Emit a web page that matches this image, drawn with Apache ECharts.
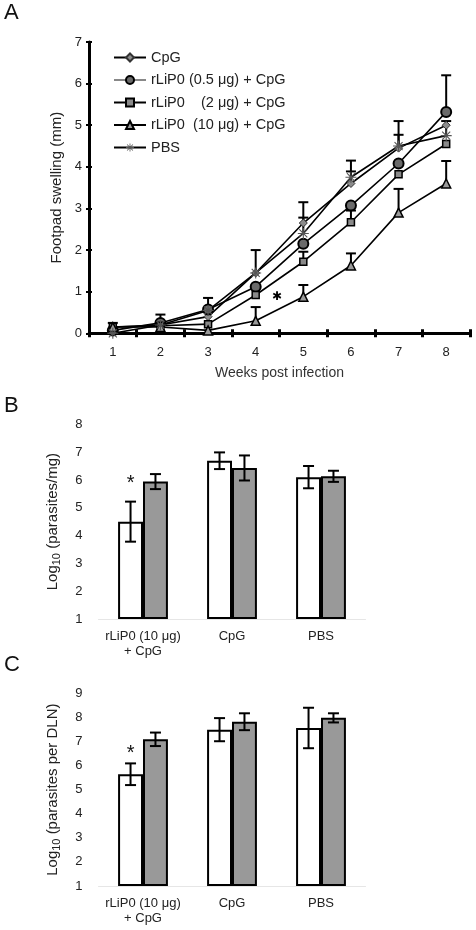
<!DOCTYPE html>
<html><head><meta charset="utf-8">
<script src="https://cdn.jsdelivr.net/npm/echarts@6/dist/echarts.min.js"></script>
<style>html,body{margin:0;padding:0;background:#fff}#c{width:476px;height:930px}</style>
</head><body><div id="c"></div>
<script>
// ---------- Panel A data ----------
const weeks = ['1','2','3','4','5','6','7','8'];
const cpgVals  = [0.15, 0.20, 0.40, 1.45, 2.65, 3.60, 4.45, 5.00];
const lip05Vals = [0.07, 0.25, 0.57, 1.12, 2.15, 3.07, 4.08, 5.32];
const lip2Vals  = [0.15, 0.18, 0.22, 0.92, 1.72, 2.67, 3.82, 4.55];
const lip10Vals = [0.15, 0.15, 0.07, 0.30, 0.88, 1.63, 2.90, 3.60];
const pbsVals   = [0.00, 0.20, 0.55, 1.45, 2.40, 3.75, 4.50, 4.75];
// upper error-bar ends (null = not drawn)
const cpgErrTop   = [null, null, null, 2.00, 3.15, 4.15, 5.10, null];
const lip05ErrTop = [0.25, 0.45, 0.85, null, null, null, null, 6.20];
const lip2ErrTop  = [null, null, null, null, 1.96, 2.95, null, null];
const lip10ErrTop = [null, null, null, 0.63, 1.16, 1.92, 3.47, 4.14];
const pbsErrTop   = [null, null, null, null, 2.78, 3.89, 4.77, 5.10];
const seriesNamesA = ['CpG', 'rLiP0 (0.5 μg) + CpG', 'rLiP0    (2 μg) + CpG', 'rLiP0  (10 μg) + CpG', 'PBS'];
const starA = [[3, 0.87]];

// ---------- Panel B / C data ----------
const groups = ['rLiP0 (10 μg)\n+ CpG', 'CpG', 'PBS'];
const bWhite = [4.50, 6.69, 6.10];
const bWhiteErr = [0.72, 0.30, 0.40];
const bGray = [5.94, 6.43, 6.13];
const bGrayErr = [0.27, 0.45, 0.20];
const starB = [[0, 6.0]];

const cWhite = [5.64, 7.49, 7.56];
const cWhiteErr = [0.45, 0.48, 0.84];
const cGray = [7.09, 7.82, 7.98];
const cGrayErr = [0.28, 0.35, 0.19];
const starC = [[0, 6.65]];

const yTicksB = [1, 8];
const yTicksC = [1, 9];

const FONT = 'Liberation Sans, Arial, sans-serif';
const TXT = '#222';
const BAR_FRAC = 0.28;

const asteriskPath = 'path://M9,0 L11,0 L11,20 L9,20 Z M0,9 L20,9 L20,11 L0,11 Z M2,3.4 L3.4,2 L18,16.6 L16.6,18 Z M16.6,2 L18,3.4 L3.4,18 L2,16.6 Z';

function errDataA() {
  const out = [];
  const vals = [cpgVals, lip05Vals, lip2Vals, lip10Vals, pbsVals];
  const tops = [cpgErrTop, lip05ErrTop, lip2ErrTop, lip10ErrTop, pbsErrTop];
  for (let s = 0; s < vals.length; s++) {
    for (let i = 0; i < weeks.length; i++) {
      if (tops[s][i] != null) out.push([i, vals[s][i], tops[s][i]]);
    }
  }
  return out;
}
function renderErrA(params, api) {
  const x = api.value(0), v = api.value(1), t = api.value(2);
  const p0 = api.coord([x, v]), p1 = api.coord([x, t]);
  const hw = 5;
  const st = {stroke: '#000', lineWidth: 2};
  return {type: 'group', children: [
    {type: 'line', shape: {x1: p0[0], y1: p0[1], x2: p1[0], y2: p1[1]}, style: st},
    {type: 'line', shape: {x1: p1[0] - hw, y1: p1[1], x2: p1[0] + hw, y2: p1[1]}, style: st}
  ]};
}
function barErrData(vals, errs, side) {
  return vals.map((v, i) => [i, v - errs[i], v + errs[i], side]);
}
function renderBarErr(params, api) {
  const x = api.value(0), lo = api.value(1), hi = api.value(2), side = api.value(3);
  const band = api.size([1, 0])[0];
  const off = side * band * BAR_FRAC / 2;
  const pLo = api.coord([x, lo]), pHi = api.coord([x, hi]);
  const cx = pLo[0] + off;
  const hw = 5.5;
  const st = {stroke: '#000', lineWidth: 2};
  return {type: 'group', children: [
    {type: 'line', shape: {x1: cx, y1: pLo[1], x2: cx, y2: pHi[1]}, style: st},
    {type: 'line', shape: {x1: cx - hw, y1: pHi[1], x2: cx + hw, y2: pHi[1]}, style: st},
    {type: 'line', shape: {x1: cx - hw, y1: pLo[1], x2: cx + hw, y2: pLo[1]}, style: st}
  ]};
}
function renderStarBar(params, api) {
  const x = api.value(0), v = api.value(1);
  const band = api.size([1, 0])[0];
  const p = api.coord([x, v]);
  return {type: 'text', x: p[0] - band * BAR_FRAC / 2, y: p[1] + 4,
    style: {text: '*', fill: '#111', fontSize: 20, fontFamily: FONT, align: 'center', verticalAlign: 'middle'}};
}
function renderStarA(params, api) {
  const x = api.value(0), v = api.value(1);
  const band = api.size([1, 0])[0];
  const p = api.coord([x, v]);
  return {type: 'text', x: p[0] + band * 0.45, y: p[1],
    style: {text: '✱', fill: '#000', fontSize: 12, fontFamily: 'DejaVu Sans', align: 'center', verticalAlign: 'middle'}};
}

const lineStyleA = {color: '#000', width: 1.6};
function lineSeries(name, data, symbol, size, fill, border, bw) {
  return {
    type: 'line', name: name, data: data, xAxisIndex: 0, yAxisIndex: 0,
    symbol: symbol, symbolSize: size, showAllSymbol: true,
    lineStyle: lineStyleA,
    itemStyle: {color: fill, borderColor: border, borderWidth: bw},
    emphasis: {disabled: true}, animation: false, z: 3
  };
}

const axisLabelStyle = {color: TXT, fontSize: 13, fontFamily: FONT};

const option = {
  backgroundColor: '#fff',
  animation: false,
  textStyle: {fontFamily: FONT},
  graphic: [
    {type: 'text', left: 4, top: 2, style: {text: 'A', fontSize: 22, fill: '#111', fontFamily: FONT}},
    {type: 'text', left: 4, top: 395, style: {text: 'B', fontSize: 22, fill: '#111', fontFamily: FONT}},
    {type: 'text', left: 4, top: 654, style: {text: 'C', fontSize: 22, fill: '#111', fontFamily: FONT}}
  ],
  legend: {
    orient: 'vertical', left: 113, top: 50, padding: 0, itemWidth: 32, itemHeight: 10, itemGap: 7.5,
    textStyle: {color: TXT, fontSize: 14.5, fontFamily: FONT},
    data: [
      {name: seriesNamesA[0]},
      {name: seriesNamesA[1], lineStyle: {color: '#888'}},
      {name: seriesNamesA[2]},
      {name: seriesNamesA[3]},
      {name: seriesNamesA[4]}
    ],
    selectedMode: false
  },
  grid: [
    {left: 89, top: 42, width: 381, height: 291.3},
    {left: 98.5, top: 424.3, width: 267, height: 194.7},
    {left: 98.5, top: 693.3, width: 267, height: 192.7}
  ],
  xAxis: [
    {gridIndex: 0, type: 'category', data: weeks, boundaryGap: true,
     axisLine: {lineStyle: {color: '#000', width: 3}},
     axisTick: {show: true, length: 4, lineStyle: {color: '#000', width: 3}},
     axisLabel: Object.assign({margin: 13, interval: 0}, axisLabelStyle),
     name: 'Weeks post infection', nameLocation: 'middle', nameGap: 33,
     nameTextStyle: {color: '#333', fontSize: 14, fontFamily: FONT},
     splitLine: {show: false}},
    {gridIndex: 0, type: 'category', data: weeks, boundaryGap: true, position: 'bottom',
     axisLine: {show: false},
     axisTick: {show: true, inside: true, length: 4, lineStyle: {color: '#000', width: 3}},
     axisLabel: {show: false}, splitLine: {show: false}},
    {gridIndex: 1, type: 'category', data: groups, boundaryGap: true,
     axisLine: {lineStyle: {color: '#e6e6e6', width: 1}},
     axisTick: {show: false},
     axisLabel: Object.assign({margin: 10, lineHeight: 15, interval: 0}, axisLabelStyle)},
    {gridIndex: 2, type: 'category', data: groups, boundaryGap: true,
     axisLine: {lineStyle: {color: '#e6e6e6', width: 1}},
     axisTick: {show: false},
     axisLabel: Object.assign({margin: 10, lineHeight: 15, interval: 0}, axisLabelStyle)}
  ],
  yAxis: [
    {gridIndex: 0, type: 'value', min: 0, max: 7, interval: 1,
     axisLine: {show: true, lineStyle: {color: '#000', width: 3}},
     axisTick: {show: true, length: 3, lineStyle: {color: '#000', width: 2}},
     axisLabel: Object.assign({margin: 7}, axisLabelStyle),
     splitLine: {show: false},
     name: 'Footpad swelling (mm)', nameLocation: 'middle', nameGap: 25,
     nameTextStyle: {color: TXT, fontSize: 15, fontFamily: FONT}},
    {gridIndex: 0, type: 'value', min: 0, max: 7, interval: 1, position: 'left',
     axisLine: {show: false},
     axisTick: {show: true, inside: true, length: 3, lineStyle: {color: '#000', width: 2}},
     axisLabel: {show: false}, splitLine: {show: false}},
    {gridIndex: 1, type: 'value', min: yTicksB[0], max: yTicksB[1], interval: 1, startValue: 1,
     axisLine: {show: false}, axisTick: {show: false}, splitLine: {show: false},
     axisLabel: Object.assign({margin: 16}, axisLabelStyle),
     name: '{a|Log}{s|10}{a| (parasites/mg)}', nameLocation: 'middle', nameGap: 36,
     nameTextStyle: {rich: {
       a: {fontSize: 15, color: TXT, fontFamily: FONT, lineHeight: 20, verticalAlign: 'middle'},
       s: {fontSize: 11, color: TXT, fontFamily: FONT, lineHeight: 20, verticalAlign: 'bottom'}}}},
    {gridIndex: 2, type: 'value', min: yTicksC[0], max: yTicksC[1], interval: 1, startValue: 1,
     axisLine: {show: false}, axisTick: {show: false}, splitLine: {show: false},
     axisLabel: Object.assign({margin: 16}, axisLabelStyle),
     name: '{a|Log}{s|10}{a| (parasites per DLN)}', nameLocation: 'middle', nameGap: 36,
     nameTextStyle: {rich: {
       a: {fontSize: 15, color: TXT, fontFamily: FONT, lineHeight: 20, verticalAlign: 'middle'},
       s: {fontSize: 11, color: TXT, fontFamily: FONT, lineHeight: 20, verticalAlign: 'bottom'}}}}
  ],
  series: [
    {type: 'custom', name: 'errA', xAxisIndex: 0, yAxisIndex: 0, data: errDataA(), renderItem: renderErrA, z: 2, silent: true},
    lineSeries(seriesNamesA[0], cpgVals, 'diamond', 8, '#8c8c8c', '#333', 1),
    lineSeries(seriesNamesA[1], lip05Vals, 'circle', 10, '#6a6a6a', '#000', 2),
    lineSeries(seriesNamesA[2], lip2Vals, 'rect', 7, '#8a8a8a', '#000', 1.5),
    lineSeries(seriesNamesA[3], lip10Vals, 'triangle', 9, '#9a9a9a', '#000', 1.5),
    lineSeries(seriesNamesA[4], pbsVals, asteriskPath, 11, '#555', '#555', 0),
    {type: 'custom', name: 'starA', xAxisIndex: 0, yAxisIndex: 0, data: starA, renderItem: renderStarA, z: 4, silent: true},

    {type: 'bar', name: 'bWhite', xAxisIndex: 2, yAxisIndex: 2, data: bWhite, barWidth: (BAR_FRAC * 100) + '%', barGap: '0%',
     itemStyle: {color: '#fff', borderColor: '#000', borderWidth: 2}, silent: true},
    {type: 'bar', name: 'bGray', xAxisIndex: 2, yAxisIndex: 2, data: bGray, barWidth: (BAR_FRAC * 100) + '%', barGap: '0%',
     itemStyle: {color: '#999', borderColor: '#000', borderWidth: 2}, silent: true},
    {type: 'custom', name: 'bErr', xAxisIndex: 2, yAxisIndex: 2,
     data: barErrData(bWhite, bWhiteErr, -1).concat(barErrData(bGray, bGrayErr, 1)), renderItem: renderBarErr, z: 5, silent: true},
    {type: 'custom', name: 'bStar', xAxisIndex: 2, yAxisIndex: 2, data: starB, renderItem: renderStarBar, z: 5, silent: true},

    {type: 'bar', name: 'cWhite', xAxisIndex: 3, yAxisIndex: 3, data: cWhite, barWidth: (BAR_FRAC * 100) + '%', barGap: '0%',
     itemStyle: {color: '#fff', borderColor: '#000', borderWidth: 2}, silent: true},
    {type: 'bar', name: 'cGray', xAxisIndex: 3, yAxisIndex: 3, data: cGray, barWidth: (BAR_FRAC * 100) + '%', barGap: '0%',
     itemStyle: {color: '#999', borderColor: '#000', borderWidth: 2}, silent: true},
    {type: 'custom', name: 'cErr', xAxisIndex: 3, yAxisIndex: 3,
     data: barErrData(cWhite, cWhiteErr, -1).concat(barErrData(cGray, cGrayErr, 1)), renderItem: renderBarErr, z: 5, silent: true},
    {type: 'custom', name: 'cStar', xAxisIndex: 3, yAxisIndex: 3, data: starC, renderItem: renderStarBar, z: 5, silent: true}
  ]
};
const chart = echarts.init(document.getElementById('c'), null, {renderer: 'canvas'});
chart.setOption(option);
</script>
</body></html>
